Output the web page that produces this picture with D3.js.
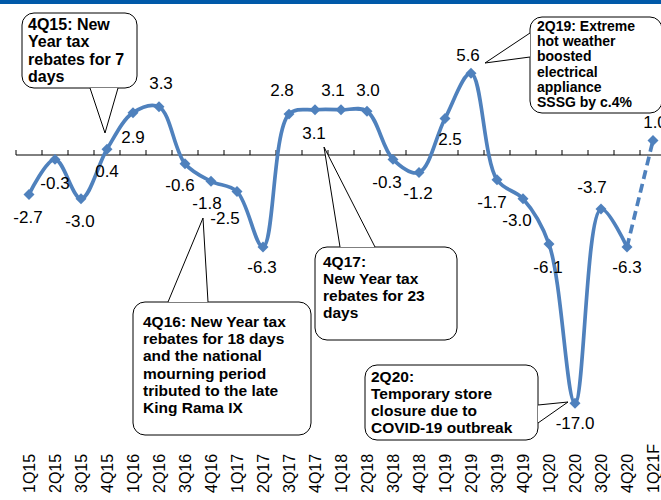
<!DOCTYPE html>
<html>
<head>
<meta charset="utf-8">
<script src="https://cdnjs.cloudflare.com/ajax/libs/d3/7.8.5/d3.min.js"></script>
<style>
  body { margin: 0; background: #fff; }
  svg text { font-family: "Liberation Sans", Arial, sans-serif; }
</style>
</head>
<body>
<div id="chart"></div>
<script>
// data
var quarters = ["1Q15","2Q15","3Q15","4Q15","1Q16","2Q16","3Q16","4Q16","1Q17","2Q17","3Q17","4Q17",
                "1Q18","2Q18","3Q18","4Q18","1Q19","2Q19","3Q19","4Q19","1Q20","2Q20","3Q20","4Q20","1Q21F"];
var sssg = [-2.7, -0.3, -3.0, 0.4, 2.9, 3.3, -0.6, -1.8, -2.5, -6.3, 2.8, 3.1,
            3.1, 3.0, -0.3, -1.2, 2.5, 5.6, -1.7, -3.0, -6.1, -17.0, -3.7, -6.3, 1.0];
var forecastFrom = "4Q20";

var notes4Q15 = ["4Q15: New", "Year tax", "rebates for 7", "days"];
var notes2Q19 = ["2Q19: Extreme", "hot weather", "boosted", "electrical", "appliance", "SSSG by c.4%"];
var notes4Q16 = ["4Q16: New Year tax", "rebates for 18 days", "and the national", "mourning period", "tributed to the late", "King Rama IX"];
var notes4Q17 = ["4Q17:", "New Year tax", "rebates for 23", "days"];
var notes2Q20 = ["2Q20:", "Temporary store", "closure due to", "COVID-19 outbreak"];

// label offsets from each marker (layout only)
var labelOffset = [[-1,23],[0,24],[-1,22],[0,22],[0,24],[2,-24],[-5,21],[-4,22],[-12,27],[-1,20],[-7,-24],[-1,23],
                   [-8,-20],[1,-21],[-6,23],[-1,21],[5,21],[-3,-18],[-5,22],[-6,21],[-1,23],[0,20],[-9,-22],[0,20],[2,-18]];

var W = 661, H = 500;
var svg = d3.select("#chart").append("svg")
    .attr("width", W)
    .attr("height", H);

svg.append("rect")
    .attr("x", 0).attr("y", 0)
    .attr("width", W).attr("height", 4)
    .attr("fill", "#0059a9");

var x = d3.scaleBand()
    .domain(quarters)
    .range([16, 16 + 26 * quarters.length]);

var y = d3.scaleLinear()
    .domain([-18, 7])
    .range([155 + 18 * 14.6, 155 - 7 * 14.6]);

var cx = d => x(d.q) + x.bandwidth() / 2;

var pts = quarters.map((q, i) => ({q: q, v: sssg[i], i: i}));
var fi = quarters.indexOf(forecastFrom);

// axis at zero with ticks pointing up
var axis = svg.append("g")
    .attr("transform", "translate(0," + y(0) + ")")
    .call(d3.axisTop(x).tickSize(0).tickFormat(""));
axis.select(".domain").remove();
axis.append("line")
    .attr("x1", 16).attr("x2", W)
    .attr("stroke", "#000").attr("stroke-width", 1);
axis.selectAll(".bound")
    .data(d3.range(quarters.length + 1))
    .enter().append("line")
    .attr("x1", k => 16 + 26 * k).attr("x2", k => 16 + 26 * k)
    .attr("y1", 0).attr("y2", -5)
    .attr("stroke", "#000");

var line = d3.line()
    .x(cx)
    .y(d => y(d.v))
    .curve(d3.curveCatmullRom);

svg.append("path")
    .attr("d", line(pts.slice(0, fi + 1)))
    .attr("fill", "none")
    .attr("stroke", "#4f81bd")
    .attr("stroke-width", 3.7);

svg.append("path")
    .attr("d", line(pts.slice(fi)))
    .attr("fill", "none")
    .attr("stroke", "#4f81bd")
    .attr("stroke-width", 3.7)
    .attr("stroke-dasharray", "9,5");

svg.selectAll(".marker")
    .data(pts).enter()
    .append("path")
    .attr("class", "marker")
    .attr("d", d3.symbol(d3.symbolSquare, 60))
    .attr("transform", d => "translate(" + cx(d) + "," + y(d.v) + ") rotate(45)")
    .attr("fill", "#4f81bd");

svg.selectAll(".vlabel")
    .data(pts).enter()
    .append("text")
    .attr("class", "vlabel")
    .attr("x", d => cx(d) + labelOffset[d.i][0])
    .attr("y", d => y(d.v) + labelOffset[d.i][1])
    .attr("dy", "0.35em")
    .attr("text-anchor", "middle")
    .attr("font-size", 17)
    .attr("fill", "#000")
    .text(d => d.v.toFixed(1));

// category labels, rotated
svg.selectAll(".qlabel")
    .data(pts).enter()
    .append("text")
    .attr("class", "qlabel")
    .attr("transform", d => "translate(" + cx(d) + ",493) rotate(-90)")
    .attr("dy", "0.35em")
    .attr("font-size", 16)
    .attr("fill", "#000")
    .text(d => d.q);

// callouts
function callout(box, side, b1, b2, tip, lines, tx, ty, lh, fs) {
  var g = svg.append("g");
  g.append("rect")
    .attr("x", box[0]).attr("y", box[1])
    .attr("width", box[2]).attr("height", box[3])
    .attr("rx", 12).attr("ry", 12)
    .attr("fill", "#fff").attr("stroke", "#000").attr("stroke-width", 1);
  var p1, p2;
  if (side == "top") { p1 = [b1, box[1]]; p2 = [b2, box[1]]; }
  if (side == "bottom") { p1 = [b1, box[1] + box[3]]; p2 = [b2, box[1] + box[3]]; }
  if (side == "left") { p1 = [box[0], b1]; p2 = [box[0], b2]; }
  if (side == "right") { p1 = [box[0] + box[2], b1]; p2 = [box[0] + box[2], b2]; }
  g.append("path")
    .attr("d", "M" + p1 + "L" + tip + "L" + p2 + "Z")
    .attr("fill", "#fff");
  g.append("path")
    .attr("d", "M" + p1 + "L" + tip + "L" + p2)
    .attr("fill", "none").attr("stroke", "#000").attr("stroke-width", 1);
  g.selectAll("text")
    .data(lines).enter()
    .append("text")
    .attr("x", tx)
    .attr("y", (d, i) => ty + i * lh)
    .attr("font-size", fs)
    .attr("font-weight", "bold")
    .attr("fill", "#000")
    .text(d => d);
}

callout([22, 13, 115, 75], "bottom", 90, 118, [105, 133], notes4Q15, 28, 30, 17.3, 16);
callout([530, 17, 132, 96], "left", 33, 57, [485, 63], notes2Q19, 537, 31, 15.2, 14);
callout([133, 302, 178, 133], "top", 168, 208, [203, 218], notes4Q16, 143, 327, 17.2, 15.5);
callout([315, 247, 142, 93], "top", 340, 375, [324, 147], notes4Q17, 323, 267, 17, 15.5);
callout([365, 365, 173, 75], "right", 405, 423, [568, 402], notes2Q20, 371, 382, 17, 15.5);
</script>
</body>
</html>
